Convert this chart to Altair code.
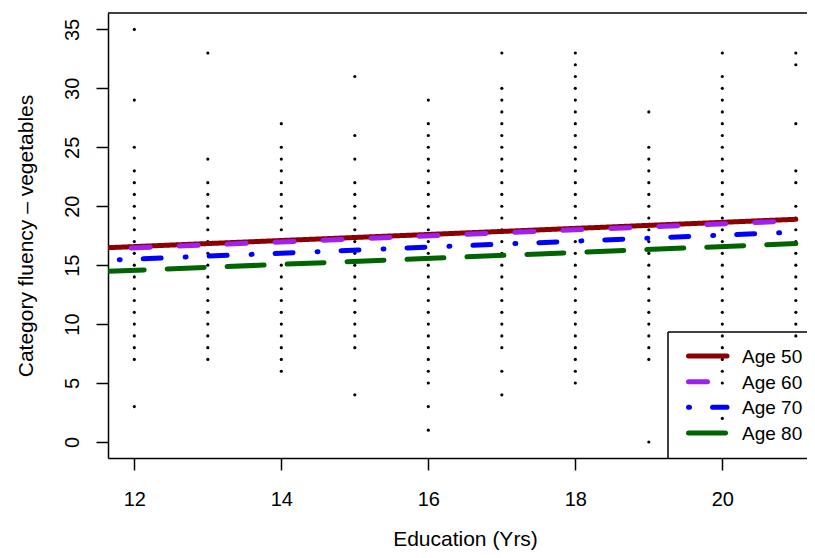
import altair as alt
import pandas as pd

# ---- scatter data: category fluency (vegetables) by years of education ----
edu_levels = [12, 13, 14, 15, 16, 17, 18, 19, 20, 21]
fluency_12 = [35, 29, 25, 23, 22, 21, 20, 19, 18, 17, 16, 15, 14, 13, 12, 11, 10, 9, 8, 7, 3]
fluency_13 = [33, 24, 22, 21, 20, 19, 18, 17, 16, 15, 14, 13, 12, 11, 10, 9, 8, 7]
fluency_14 = [27, 25, 24, 23, 22, 21, 20, 19, 18, 17, 16, 15, 14, 13, 12, 11, 10, 9, 8, 7, 6]
fluency_15 = [31, 26, 24, 22, 21, 20, 19, 18, 17, 16, 15, 14, 13, 12, 11, 10, 9, 8, 4]
fluency_16 = [29, 27, 26, 25, 24, 23, 22, 21, 20, 19, 18, 17, 16, 15, 14, 13, 12, 11, 10,
              9, 8, 7, 6, 5, 3, 1]
fluency_17 = [33, 30, 29, 28, 27, 26, 25, 24, 23, 22, 21, 20, 19, 18, 17, 16, 15, 14, 13,
              12, 11, 10, 9, 8, 6, 4]
fluency_18 = [33, 32, 31, 30, 29, 28, 27, 26, 25, 24, 23, 22, 21, 20, 19, 18, 17, 16, 15,
              14, 13, 12, 11, 10, 9, 8, 7, 6, 5]
fluency_19 = [28, 25, 24, 23, 22, 21, 20, 19, 18, 17, 16, 15, 14, 13, 12, 11, 10, 9, 8, 7, 0]
fluency_20 = [33, 31, 30, 29, 28, 27, 26, 25, 24, 23, 22, 21, 20, 19, 18, 17, 16, 15, 14,
              13, 12, 11, 10, 9, 8, 7, 6, 5, 2]
fluency_21 = [33, 32, 27, 23, 22, 20, 19, 18, 17, 16, 15, 14, 13, 12, 11, 10, 9]

# ---- fitted lines by age ----
series = ["Age 50", "Age 60", "Age 70", "Age 80"]
line_edu = [10, 21]
fit_start = [16.06, 15.95, 15.00, 14.06]
fit_end = [18.89, 18.76, 17.80, 16.83]
colors = ["#8B0000", "#A020F0", "#0000FF", "#006400"]
dashes = [[1, 0], [19, 29], [1, 23, 18, 24], [37, 23]]

# ---- tables ----
all_fluency = [fluency_12, fluency_13, fluency_14, fluency_15, fluency_16,
               fluency_17, fluency_18, fluency_19, fluency_20, fluency_21]
pts = pd.DataFrame(
    [{"edu": e, "fluency": v} for e, vals in zip(edu_levels, all_fluency) for v in vals]
)
lines = pd.DataFrame(
    [{"series": s, "edu": line_edu[0], "fluency": a} for s, a in zip(series, fit_start)]
    + [{"series": s, "edu": line_edu[1], "fluency": b} for s, b in zip(series, fit_end)]
)
legend_df = pd.DataFrame({"series": series, "row": list(range(len(series)))})

FONT = "Liberation Sans"

x_enc = alt.X(
    "edu:Q",
    scale=alt.Scale(domain=[11.642, 21.152], nice=False, zero=False),
    axis=alt.Axis(
        values=[12, 14, 16, 18, 20], title="Education (Yrs)",
        labelBaseline="alphabetic", labelPadding=35, labelAlign="center",
        labelFlush=False, labelOverlap=False,
        titleX=357, titleY=87, titleAlign="center", titleBaseline="alphabetic",
    ),
)
y_enc = alt.Y(
    "fluency:Q",
    scale=alt.Scale(domain=[-1.36, 36.39], nice=False, zero=False),
    axis=alt.Axis(
        values=[0, 5, 10, 15, 20, 25, 30, 35], title="Category fluency \u2013 vegetables",
        labelAngle=270, labelAlign="center", labelBaseline="alphabetic", labelPadding=18,
        labelFlush=False, labelOverlap=False,
        titleX=-76, titleY=222.5, titleAngle=270, titleAlign="center",
        titleBaseline="alphabetic",
    ),
)

color_scale = alt.Scale(domain=series, range=colors)
dash_scale = alt.Scale(domain=series, range=dashes)

points = alt.Chart(pts).mark_circle(size=10, color="black", opacity=1).encode(
    x=x_enc, y=y_enc
)

fit_lines = alt.Chart(lines).mark_line(clip=True, strokeWidth=5, strokeCap="round").encode(
    x=x_enc,
    y=y_enc,
    color=alt.Color("series:N", scale=color_scale, legend=None),
    strokeDash=alt.StrokeDash("series:N", scale=dash_scale, legend=None),
)

# top edge of the plot frame (the right edge lies beyond the picture)
top_border = alt.Chart(pd.DataFrame({"k": [0]})).mark_rule(
    color="black", strokeWidth=1.5
).encode(x=alt.value(0), x2=alt.value(699), y=alt.value(0))

main = alt.layer(points, fit_lines, top_border)

# ---- legend (bottom right, drawn inside the plot) ----
row_y = alt.Y("row:Q", scale=alt.Scale(domain=[0, 3], range=[343, 420]), axis=None)

leg_box_top = alt.Chart(pd.DataFrame({"k": [0]})).mark_rule(
    color="black", strokeWidth=1.5
).encode(x=alt.value(560), x2=alt.value(699), y=alt.value(319))
leg_box_left = alt.Chart(pd.DataFrame({"k": [0]})).mark_rule(
    color="black", strokeWidth=1.5
).encode(x=alt.value(560), y=alt.value(319), y2=alt.value(445))

leg_lines = alt.Chart(legend_df).mark_rule(strokeWidth=5, strokeCap="round").encode(
    x=alt.value(580.5),
    x2=alt.value(619),
    y=row_y,
    color=alt.Color("series:N", scale=color_scale, legend=None),
    strokeDash=alt.StrokeDash("series:N", scale=dash_scale, legend=None),
)

leg_text = alt.Chart(legend_df).mark_text(
    align="left", baseline="middle", font=FONT, fontSize=19, color="black", dy=1
).encode(x=alt.value(634), y=row_y, text="series:N")

legend = alt.layer(leg_box_top, leg_box_left, leg_lines, leg_text)

chart = (
    alt.layer(main, legend)
    .resolve_scale(y="independent")
    .properties(
        width=699,
        height=445,
        autosize=alt.AutoSizeParams(type="none"),
        padding={"left": 100, "top": 5, "right": 0, "bottom": 92},
        background="white",
    )
    .configure_view(stroke="transparent", strokeWidth=0)
    .configure_axis(
        domainColor="black", domainWidth=1.5,
        tickColor="black", tickWidth=1.5, tickSize=12,
        labelFont=FONT, labelFontSize=20, labelColor="black",
        titleFont=FONT, titleFontSize=21, titleColor="black", titleFontWeight="normal",
        grid=False,
    )
    .configure_axisRight(domain=False, ticks=False, labels=False)
)

chart.save("out.html", embed_options={"renderer": "svg", "actions": False})
